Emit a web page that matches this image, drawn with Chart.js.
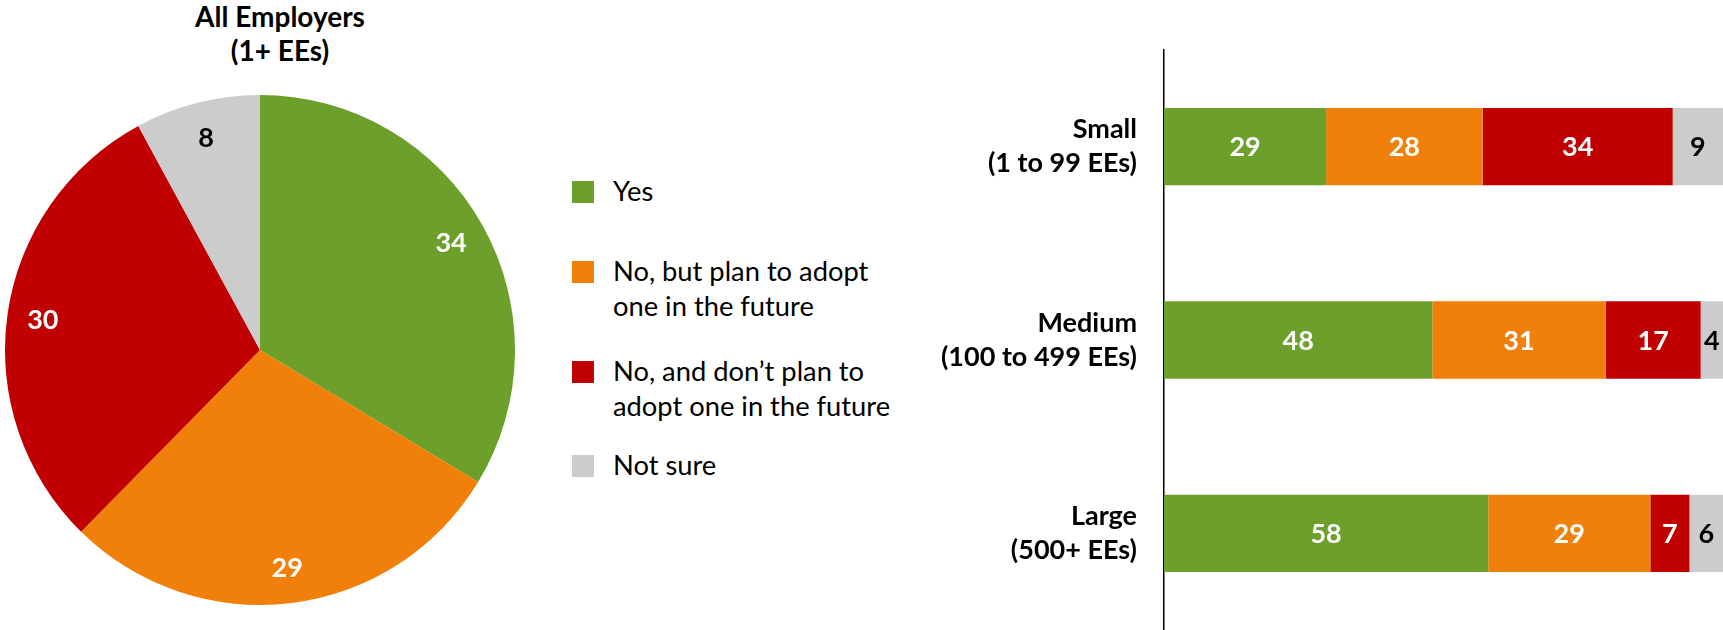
<!DOCTYPE html>
<html>
<head>
<meta charset="utf-8">
<script src="https://cdn.jsdelivr.net/npm/chart.js@4.4.1/dist/chart.umd.min.js"></script>
<style>
  html, body { margin: 0; padding: 0; background: #ffffff; }
  body { width: 1723px; height: 630px; position: relative; overflow: hidden; font-family: Lato, "Noto Sans", sans-serif; color: #000; }
  #pieWrap { position: absolute; left: 5px; top: 95px; width: 510px; height: 510px; }
  #barWrap { position: absolute; left: 900px; top: 0; width: 823px; height: 630px; }
  #title { position: absolute; left: 110px; width: 340px; top: -1px; text-align: center; font-weight: bold; font-size: 28px; line-height: 34px; }
  #legend { position: absolute; left: 572px; top: 0; width: 340px; height: 630px; }
  .li { position: absolute; left: 0; width: 340px; font-size: 27.3px; line-height: 35px; }
  .sw { position: absolute; left: 0; top: 8px; width: 22px; height: 22px; }
  .tx { position: absolute; left: 41px; top: 0; white-space: nowrap; }
</style>
</head>
<body>
<div id="title">All Employers<br>(1+ EEs)</div>
<div id="pieWrap"><canvas id="pie" width="510" height="510"></canvas></div>
<div id="legend"></div>
<div id="barWrap"><canvas id="bar" width="823" height="630"></canvas></div>
<script>
// ---------- data ----------
const responseLabels = [
  ['Yes'],
  ['No, but plan to adopt', 'one in the future'],
  ['No, and don\u2019t plan to', 'adopt one in the future'],
  ['Not sure']
];
const allEmployerValues = [34, 29, 30, 8];

const sizeCategories = [
  ['Small', '(1 to 99 EEs)'],
  ['Medium', '(100 to 499 EEs)'],
  ['Large', '(500+ EEs)']
];
const yesValues      = [29, 48, 58];
const planValues     = [28, 31, 29];
const noPlanValues   = [34, 17, 7];
const notSureValues  = [9, 4, 6];

// ---------- styles ----------
const segColors   = ['#6CA02A', '#F08009', '#C00000', '#CCCCCC'];
const labelColors = ['#FFFFFF', '#FFFFFF', '#FFFFFF', '#000000'];
const legendTops  = [173, 253, 353, 447];

// legend (HTML, built from the label arrays)
const legendEl = document.getElementById('legend');
responseLabels.forEach((lines, i) => {
  const item = document.createElement('div');
  item.className = 'li';
  item.style.top = legendTops[i] + 'px';
  const sw = document.createElement('div');
  sw.className = 'sw';
  sw.style.background = segColors[i];
  const tx = document.createElement('div');
  tx.className = 'tx';
  lines.forEach((ln, k) => {
    if (k) tx.appendChild(document.createElement('br'));
    tx.appendChild(document.createTextNode(ln));
  });
  item.appendChild(sw);
  item.appendChild(tx);
  legendEl.appendChild(item);
});

// value-label plugin
const valueLabels = {
  id: 'valueLabels',
  afterDatasetsDraw(chart, args, opts) {
    const ctx = chart.ctx;
    ctx.save();
    ctx.font = opts.font;
    ctx.textAlign = 'center';
    ctx.textBaseline = 'alphabetic';
    chart.data.datasets.forEach((ds, di) => {
      const meta = chart.getDatasetMeta(di);
      meta.data.forEach((el, i) => {
        let x, y, color;
        if (chart.config.type === 'pie') {
          const p = el.getProps(['x', 'y', 'startAngle', 'endAngle', 'outerRadius'], true);
          const mid = (p.startAngle + p.endAngle) / 2;
          const r = p.outerRadius * opts.radiusRatio;
          x = p.x + Math.cos(mid) * r;
          y = p.y + Math.sin(mid) * r;
          color = labelColors[i];
        } else {
          const p = el.getProps(['x', 'y', 'base'], true);
          x = (p.x + p.base) / 2;
          y = p.y;
          color = labelColors[di];
        }
        ctx.fillStyle = color;
        ctx.fillText(String(ds.data[i]), x, y + opts.capHalf);
      });
    });
    ctx.restore();
  }
};

// multi-line category labels placed at the y scale's tick positions
const categoryLabels = {
  id: 'categoryLabels',
  afterDraw(chart, args, opts) {
    const yScale = chart.scales.y;
    const ctx = chart.ctx;
    ctx.save();
    ctx.font = opts.font;
    ctx.fillStyle = '#000000';
    ctx.textAlign = 'right';
    ctx.textBaseline = 'middle';
    const x = chart.chartArea.left - opts.gap;
    chart.data.labels.forEach((lines, i) => {
      const yc = yScale.getPixelForValue(i);
      lines.forEach((ln, k) => {
        ctx.fillText(ln, x, yc + (k - (lines.length - 1) / 2) * opts.lineHeight);
      });
    });
    ctx.restore();
  }
};

function build() {
  new Chart(document.getElementById('pie'), {
    type: 'pie',
    data: {
      labels: responseLabels.map(l => l.join(' ')),
      datasets: [{
        data: allEmployerValues,
        backgroundColor: segColors,
        borderWidth: 0
      }]
    },
    options: {
      responsive: false,
      animation: false,
      layout: { padding: 0 },
      plugins: {
        legend: { display: false },
        tooltip: { enabled: false },
        valueLabels: { font: 'bold 27px Lato', radiusRatio: 0.86, capHalf: 9.5 }
      }
    },
    plugins: [valueLabels]
  });

  const seriesValues = [yesValues, planValues, noPlanValues, notSureValues];
  new Chart(document.getElementById('bar'), {
    type: 'bar',
    data: {
      labels: sizeCategories,
      datasets: seriesValues.map((vals, i) => ({
        label: responseLabels[i].join(' '),
        data: vals,
        backgroundColor: segColors[i],
        borderWidth: 0,
        barPercentage: 0.4,
        categoryPercentage: 1.0
      }))
    },
    options: {
      indexAxis: 'y',
      responsive: false,
      animation: false,
      layout: { padding: { top: 50, right: 0, bottom: 0, left: 0 } },
      scales: {
        x: { stacked: true, min: 0, max: 100, display: false },
        y: {
          stacked: true,
          grid: { display: false, drawTicks: false },
          border: { display: true, color: '#000000', width: 1.5 },
          ticks: { display: false },
          afterFit(scale) { scale.width = 264; }
        }
      },
      plugins: {
        legend: { display: false },
        tooltip: { enabled: false },
        valueLabels: { font: 'bold 27px Lato', capHalf: 9.5 },
        categoryLabels: { font: 'bold 27px Lato', gap: 27, lineHeight: 34 }
      }
    },
    plugins: [valueLabels, categoryLabels]
  });
}

if (document.fonts && document.fonts.load) {
  Promise.all([
    document.fonts.load('bold 27px Lato'),
    document.fonts.load('27px Lato')
  ]).then(build, build);
} else {
  build();
}
</script>
</body>
</html>
